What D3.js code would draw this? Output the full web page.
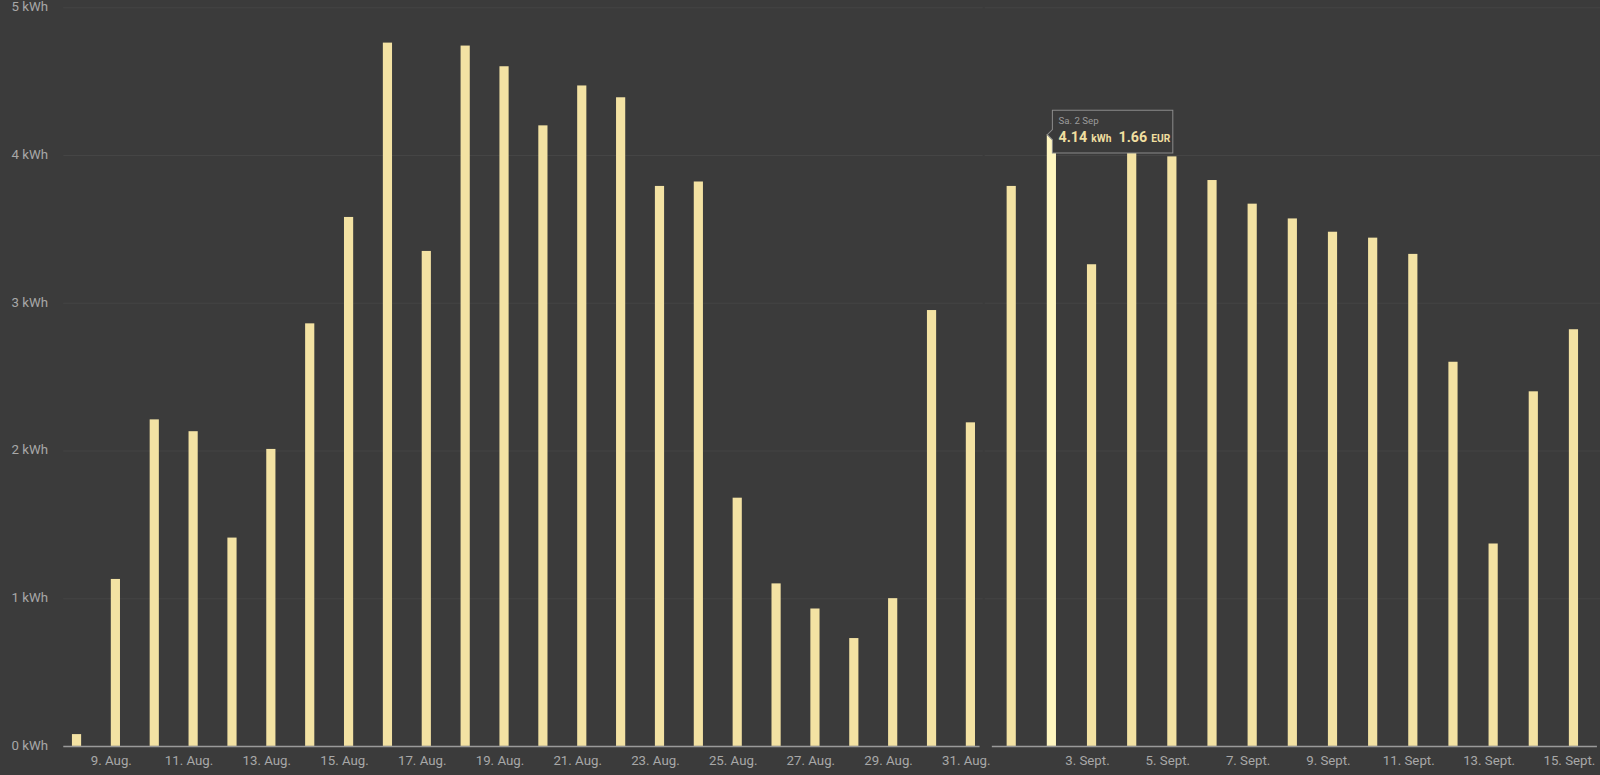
<!DOCTYPE html>
<html><head><meta charset="utf-8">
<script src="https://cdn.jsdelivr.net/npm/d3@7"></script>
<style>body{margin:0;background:#3b3b3b}svg{display:block}</style></head>
<body><svg id="c" width="1600" height="775"></svg>
<script>
const augDays = [8,9,10,11,12,13,14,15,16,17,18,19,20,21,22,23,24,25,26,27,28,29,30,31];
const augValues = [0.08,1.13,2.21,2.13,1.41,2.01,2.86,3.58,4.76,3.35,4.74,4.60,4.20,4.47,4.39,3.79,3.82,1.68,1.10,0.93,0.73,1.00,2.95,2.19];
const sepDays = [1,2,3,4,5,6,7,8,9,10,11,12,13,14,15];
const sepValues = [3.79,4.14,3.26,4.03,3.99,3.83,3.67,3.57,3.48,3.44,3.33,2.60,1.37,2.40,2.82];
const yTicks = [0,1,2,3,4,5];
const augTickDays = [9,11,13,15,17,19,21,23,25,27,29,31];
const sepTickDays = [3,5,7,9,11,13,15];

const svg = d3.select("#c").append("g").attr("transform","scale(1.0204)");
const y = d3.scaleLinear().domain([0,5]).range([731,7]);
const font = "Roboto, 'Open Sans', sans-serif";

function panel(days, vals, ticks, x0, x1, first, last, label, showY, hiIdx){
  const x = d3.scaleLinear().domain([first,last]).range([x0,x1]);
  const g = svg.append("g");
  const gl = showY ? 62 : 965, gr = showY ? 963 : 1568;
  g.selectAll(".grid").data(yTicks.filter(t=>t>0)).join("line")
    .attr("x1",gl).attr("x2",gr).attr("y1",d=>y(d)+0.5).attr("y2",d=>y(d)+0.5)
    .attr("stroke","#454545").attr("stroke-width",1);
  if(showY){
    g.selectAll(".yl").data(yTicks).join("text")
      .attr("x",47).attr("y",d=>y(d)+4).attr("text-anchor","end")
      .attr("fill","#a8a8a8").attr("font-size",13).attr("font-family",font)
      .text(d=>d+" kWh");
  }
  g.selectAll(".bar").data(vals).join("rect")
    .attr("x",(d,i)=>x(days[i])-4.5).attr("width",9)
    .attr("y",d=>y(d)).attr("height",d=>y(0)-y(d))
    .attr("fill",(d,i)=>i===hiIdx?"#fff6c0":"#f3e2a3");
  g.append("line").attr("x1",showY?62:972).attr("x2",gr-3).attr("y1",731.5).attr("y2",731.5)
    .attr("stroke","#9a9a9a").attr("stroke-width",1.5);
  g.selectAll(".xl").data(ticks).join("text")
    .attr("x",d=>x(d)-4).attr("y",750).attr("text-anchor","middle")
    .attr("fill","#a8a8a8").attr("font-size",13).attr("font-family",font)
    .text(d=>d+". "+label);
  return x;
}
panel(augDays,augValues,augTickDays,75,951,8,31,"Aug.",true,-1);
const xs = panel(sepDays,sepValues,sepTickDays,991,1542,1,15,"Sept.",false,1);

// tooltip
const tx = xs(2)-1, ty = 108;
const tt = svg.append("g");
tt.append("path").attr("d",`M${tx+2},${ty} h118 v42 h-118 v-13 l-5,-5 l5,-5 z`)
  .attr("fill","#3a3a3a").attr("stroke","#8a8a8a").attr("stroke-width",1);
tt.append("text").attr("x",tx+8).attr("y",ty+14).attr("fill","#9a9a9a")
  .attr("font-size",9.5).attr("font-family",font).text("Sa. 2 Sep");
const t2 = tt.append("text").attr("x",tx+8).attr("y",ty+31).attr("fill","#f0dfa0")
  .attr("font-family",font).attr("font-weight","bold");
t2.append("tspan").attr("font-size",14).text("4.14");
t2.append("tspan").attr("font-size",10).attr("dx",4).text("kWh");
t2.append("tspan").attr("font-size",14).attr("dx",7).text("1.66");
t2.append("tspan").attr("font-size",10).attr("dx",4).text("EUR");
</script></body></html>
